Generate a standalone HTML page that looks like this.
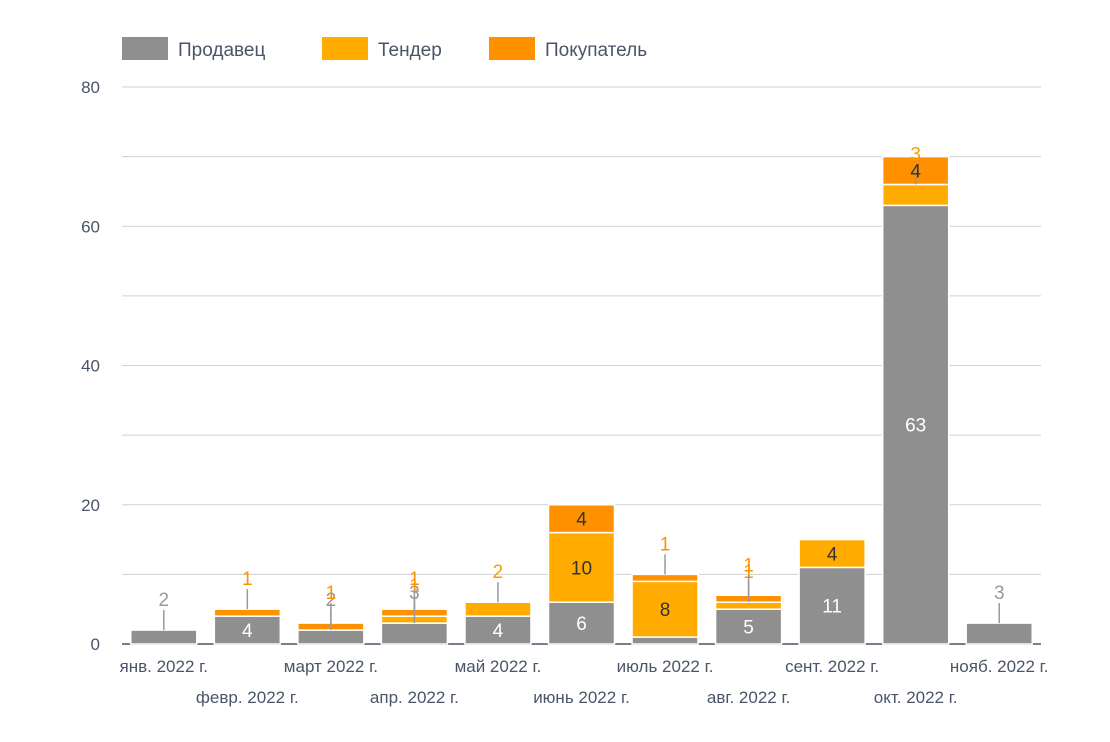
<!DOCTYPE html>
<html><head><meta charset="utf-8"><style>
body{margin:0;background:#fff;font-family:"Liberation Sans","DejaVu Sans",sans-serif;}
svg text{font-family:"Liberation Sans","DejaVu Sans",sans-serif;}
</style></head><body>
<svg id="c" width="1110" height="737">
<g>
<g><rect x="122" y="37" width="46" height="23" fill="#8f8f8f"/><text x="178" y="56" font-size="19" fill="#4a5568">Продавец</text></g>
<g><rect x="322" y="37" width="46" height="23" fill="#ffab00"/><text x="378" y="56" font-size="19" fill="#4a5568">Тендер</text></g>
<g><rect x="489" y="37" width="46" height="23" fill="#ff9100"/><text x="545" y="56" font-size="19" fill="#4a5568">Покупатель</text></g>
</g>
</svg>
<script>
const categories=["янв. 2022 г.","февр. 2022 г.","март 2022 г.","апр. 2022 г.","май 2022 г.","июнь 2022 г.","июль 2022 г.","авг. 2022 г.","сент. 2022 г.","окт. 2022 г.","нояб. 2022 г."];
const seller=[2,4,2,3,4,6,1,5,11,63,3];
const tender=[0,0,0,1,2,10,8,1,4,3,0];
const buyer=[0,1,1,1,0,4,1,1,0,4,0];
const yTicks=[0,20,40,60,80];
const NS="http://www.w3.org/2000/svg";
const svg=document.getElementById('c');
const x0=122,x1=1041,yb=644,yt=87,ymax=80;
const band=(x1-x0)/categories.length,bw=66;
const y=v=>yb-(yb-yt)*v/ymax;
const xc=i=>x0+band*(i+0.5);
function mk(t,a,p){const e=document.createElementNS(NS,t);for(const k in a)e.setAttribute(k,a[k]);(p||svg).appendChild(e);return e;}
const grid=mk('g',{});


for(let v=0;v<=ymax;v+=10){const l=mk('line',{x1:x0,x2:x1,y1:y(v),y2:y(v),stroke:v===0?'#4a5568':'#d0d0d0','stroke-width':v===0?1.5:1},grid);

}
yTicks.forEach(v=>{const t=mk('text',{x:100,y:y(v)+6,'text-anchor':'end','font-size':17,fill:'#4a5568'});t.textContent=v;

});
categories.forEach((c,i)=>{const t=mk('text',{x:xc(i),y:i%2?703:672,'text-anchor':'middle','font-size':17,fill:'#4a5568'});t.textContent=c;

});
const series=[[seller,'#8f8f8f','#fff','#999','seller'],[tender,'#ffab00','#333','#f5a000','tender'],[buyer,'#ff9100','#333','#ff9100','buyer']];
const labels=mk('g',{});
categories.forEach((c,i)=>{let base=0;
series.forEach(([arr,col,inC,outC,nm])=>{const v=arr[i];if(!v)return;
const top=y(base+v),bot=y(base);
const r=mk('rect',{x:xc(i)-bw/2,y:top,width:bw,height:bot-top-(base>0||true?0:0),fill:col,stroke:'#fff','stroke-width':1.5});


const h=bot-top;
if(h>=25){const t=mk('text',{x:xc(i),y:(top+bot)/2+7,'text-anchor':'middle','font-size':19,fill:inC},labels);t.textContent=v;

}
else if(!(nm==='seller'&&i===6)){mk('line',{x1:xc(i),x2:xc(i),y1:top,y2:top-20,stroke:'#999','stroke-width':1.5},labels);
const t=mk('text',{x:xc(i),y:top-24,'text-anchor':'middle','font-size':19,fill:outC},labels);t.textContent=v;

}
base+=v;});});
svg.appendChild(labels);
</script>
</body></html>
